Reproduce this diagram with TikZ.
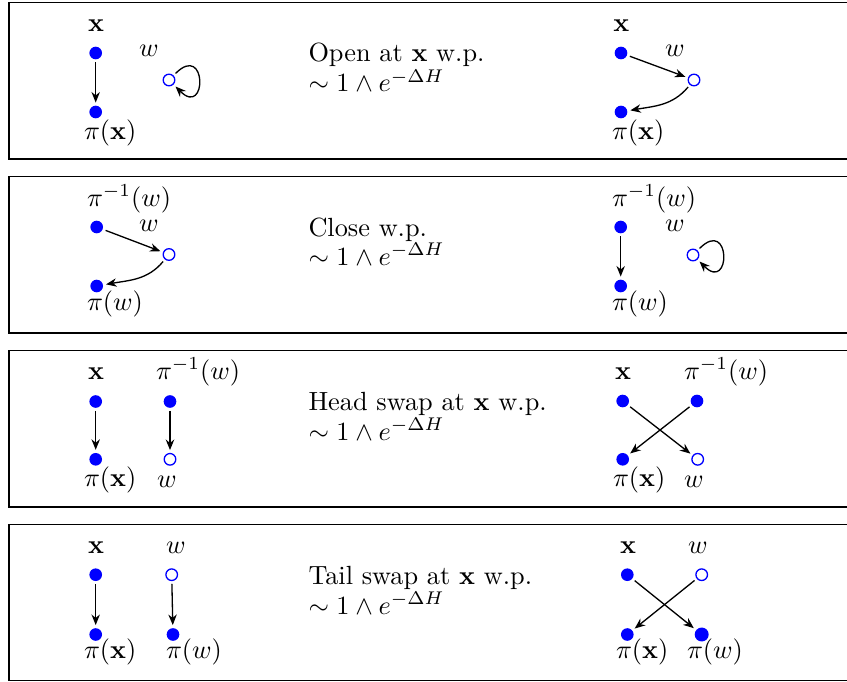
\documentclass[tikz,border=0pt]{standalone}
\usetikzlibrary{arrows.meta}
\begin{document}
\begin{tikzpicture}[x=0.3802pt,y=-0.3802pt,
  fdot/.style={circle, fill=blue, inner sep=0pt, minimum size=4.8pt, outer sep=1.2pt},
  bigdot/.style={circle, fill=blue, inner sep=0pt, minimum size=5.3pt, outer sep=1.2pt},
  odot/.style={circle, draw=blue, fill=white, line width=0.5pt, inner sep=0pt, minimum size=4.4pt, outer sep=1.3pt},
  lab/.style={anchor=base west, inner sep=0pt, outer sep=0pt},
  arr/.style={-{Stealth[length=4pt,width=3.2pt,inset=1.3pt]}, line width=0.5pt},
  panel/.style={draw=black, line width=0.5pt}]
\useasboundingbox (0,0) rectangle (847,682);
\clip (0,0) rectangle (847,682);

% panels
\draw[panel] (9,2.5) rectangle (880,159);
\draw[panel] (9,176.5) rectangle (880,333);
\draw[panel] (9,350.5) rectangle (880,507);
\draw[panel] (9,524.5) rectangle (880,680.5);

% ---------- Row 1 ----------
\node[fdot] (a1) at (95.7,53) {};
\node[fdot] (a2) at (95.7,112) {};
\node[odot] (aw) at (169,80) {};
\node[lab] (a1l) at (88,31.7) {$\mathbf{x}$};
\node[lab] (a2l) at (84,139.3) {$\pi(\mathbf{x})$};
\node[lab] (awl) at (139,56.7) {$w$};
\draw[arr] (a1) -- (a2);
\draw[arr] (aw) to[out=45,in=-45,distance=17pt] (aw);

\node[lab] (t1a) at (308.5,61.7) {Open at $\mathbf{x}$ w.p.};
\node[lab] (t1b) at (308.5,91.7) {$\sim 1\wedge e^{-\Delta H}$};

\node[fdot] (b1) at (621,53) {};
\node[fdot] (b2) at (621,112) {};
\node[odot] (bw) at (694,80) {};
\node[lab] (b1l) at (613.3,31.7) {$\mathbf{x}$};
\node[lab] (b2l) at (612,139.3) {$\pi(\mathbf{x})$};
\node[lab] (bwl) at (665,56.7) {$w$};
\draw[arr] (b1) -- (bw);
\draw[arr] (bw) to[out=-130,in=10] (b2);

% ---------- Row 2 ----------
\node[fdot] (c1) at (96.7,227) {};
\node[fdot] (c2) at (96.7,286) {};
\node[odot] (cw) at (169,254.5) {};
\node[lab] (c1l) at (87,206) {$\pi^{-1}(w)$};
\node[lab] (c2l) at (87,310.5) {$\pi(w)$};
\node[lab] (cwl) at (139,231) {$w$};
\draw[arr] (c1) -- (cw);
\draw[arr] (cw) to[out=-130,in=10] (c2);

\node[lab] (t2a) at (308.5,236) {Close w.p.};
\node[lab] (t2b) at (308.5,265) {$\sim 1\wedge e^{-\Delta H}$};

\node[fdot] (d1) at (620.7,227) {};
\node[fdot] (d2) at (620.7,286) {};
\node[odot] (dw) at (693,255) {};
\node[lab] (d1l) at (612,206) {$\pi^{-1}(w)$};
\node[lab] (d2l) at (612,310.5) {$\pi(w)$};
\node[lab] (dwl) at (665,231) {$w$};
\draw[arr] (d1) -- (d2);
\draw[arr] (dw) to[out=45,in=-45,distance=17pt] (dw);

% ---------- Row 3 ----------
\node[fdot] (e1) at (95.7,401.5) {};
\node[fdot] (e2) at (170,401.5) {};
\node[fdot] (e3) at (95.7,459.3) {};
\node[odot] (e4) at (170,459.3) {};
\node[lab] (e1l) at (88,379.5) {$\mathbf{x}$};
\node[lab] (e2l) at (156,379.5) {$\pi^{-1}(w)$};
\node[lab] (e3l) at (84,486.7) {$\pi(\mathbf{x})$};
\node[lab] (e4l) at (157,487.5) {$w$};
\draw[arr] (e1) -- (e3);
\draw[arr] (e2) -- (e4);

\node[lab] (t3a) at (308.5,410) {Head swap at $\mathbf{x}$ w.p.};
\node[lab] (t3b) at (308.5,440) {$\sim 1\wedge e^{-\Delta H}$};

\node[fdot] (f1) at (622.7,401) {};
\node[fdot] (f2) at (697,401) {};
\node[fdot] (f3) at (622.7,459.3) {};
\node[odot] (f4) at (697.7,459.3) {};
\node[lab] (f1l) at (615,379.5) {$\mathbf{x}$};
\node[lab] (f2l) at (684,379.5) {$\pi^{-1}(w)$};
\node[lab] (f3l) at (613,486.7) {$\pi(\mathbf{x})$};
\node[lab] (f4l) at (684,487.5) {$w$};
\draw[arr] (f1) -- (f4);
\draw[arr] (f2) -- (f3);

% ---------- Row 4 ----------
\node[fdot] (g1) at (95.7,574.7) {};
\node[odot] (g2) at (171.7,574.7) {};
\node[fdot] (g3) at (95.7,634.5) {};
\node[fdot] (g4) at (173,634.5) {};
\node[lab] (g1l) at (88,553.7) {$\mathbf{x}$};
\node[lab] (g2l) at (166,553.7) {$w$};
\node[lab] (g3l) at (84,658.7) {$\pi(\mathbf{x})$};
\node[lab] (g4l) at (166,658.7) {$\pi(w)$};
\draw[arr] (g1) -- (g3);
\draw[arr] (g2) -- (g4);

\node[lab] (t4a) at (308.5,584) {Tail swap at $\mathbf{x}$ w.p.};
\node[lab] (t4b) at (308.5,614) {$\sim 1\wedge e^{-\Delta H}$};

\node[fdot] (h1) at (627.3,574.7) {};
\node[odot] (h2) at (701.7,574.7) {};
\node[fdot] (h3) at (627.3,634.5) {};
\node[bigdot] (h4) at (701.7,634.5) {};
\node[lab] (h1l) at (620,553.7) {$\mathbf{x}$};
\node[lab] (h2l) at (688,553.7) {$w$};
\node[lab] (h3l) at (616,658.7) {$\pi(\mathbf{x})$};
\node[lab] (h4l) at (687,658.7) {$\pi(w)$};
\draw[arr] (h1) -- (h4);
\draw[arr] (h2) -- (h3);
\end{tikzpicture}
\end{document}
